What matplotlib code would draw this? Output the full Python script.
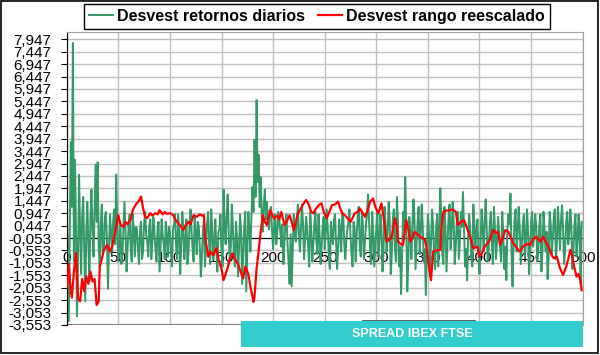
import numpy as np
import matplotlib
matplotlib.use("Agg")
import matplotlib.pyplot as plt
from matplotlib.patches import Rectangle
from matplotlib.lines import Line2D

plt.rcParams['font.family'] = ['Liberation Sans', 'DejaVu Sans']

# daily returns std, one value per day (rows of 20 days)
green_v = [
    1.7, -0.8, -3.4, 0.5, 3.8, 1.2, 7.8, -1.0, 3.1, 0.4, -3.2, -0.9, 2.5, 0.3, -1.5, 0.8, 1.6, -0.6, -2.6, 0.2,
    1.4, -0.3, -1.8, 0.7, 1.9, 0.2, -0.8, 1.1, 2.9, 0.6, 3.0, -0.4, -1.2, 0.5, 1.3, -0.7, -0.5, 0.8, 1.0, -0.2,
    -2.1, -0.4, 0.9, 0.1, -0.6, 0.6, 1.1, -0.3, 2.5, 0.4, -1.0, -0.2, 0.6, -1.1, -0.7, 0.3, 1.4, 0.2, -1.4, -0.5,
    0.5, 0.9, -0.4, -1.0, 0.9, 0.3, -0.8, 0.4, 0.3, -0.5, -1.1, 0.2, 0.6, -0.9, -0.6, 0.5, 1.0, 0.1, -0.2, -0.8,
    0.4, 0.7, -0.9, -0.2, 0.8, 0.2, -0.5, -1.0, 0.3, 0.6, -1.4, -0.3, 0.7, 0.1, -0.3, -0.9, 0.6, 0.0, -0.8, 0.4,
    0.2, -0.6, -1.2, 0.3, 0.5, 0.9, -0.4, -0.9, 0.9, 0.2, -1.5, -0.4, 1.0, 0.3, -0.9, -0.2, 0.7, -1.1, -0.6, 0.4,
    1.1, 0.2, -0.5, -1.0, 0.8, 0.1, -0.7, 0.6, 0.4, -0.4, -1.6, -0.8, 0.2, 0.7, -1.2, -0.3, 0.5, 1.0, -0.3, -1.1,
    1.1, 0.3, -0.9, -0.2, 0.7, -0.5, -1.4, 0.2, 0.3, 0.9, -0.6, -1.2, 1.9, 0.5, -0.3, 0.8, 1.7, 0.2, -1.0, -0.4,
    1.3, 0.4, -0.7, -1.2, 0.6, 0.0, -1.6, -0.5, 0.9, 0.2, -1.9, -0.8, 0.4, 1.0, -2.2, -0.6, 1.0, 0.3, -0.6, 0.8,
    2.0, 1.0, 3.9, 1.6, 5.5, 2.2, 3.3, 1.2, 2.4, 0.8, 0.2, 1.3, 1.9, 0.7, 1.4, 0.6, 0.3, 1.0, 1.2, 0.2,
    -0.5, 0.4, 0.9, -0.3, 0.1, 1.0, 0.7, 0.2, -0.4, 0.5, -1.1, -0.2, 0.6, 0.9, -0.3, -1.0, -1.9, 0.1, -2.0, -0.6,
    0.9, 0.2, -0.2, 0.6, 1.3, 0.1, -0.6, 0.4, 1.3, 0.5, -0.9, -0.1, 0.8, 0.3, -0.4, -1.2, 1.0, 0.2, -1.0, -0.3,
    0.5, 1.0, -0.2, -0.7, 0.9, 0.1, -1.1, -0.4, 0.4, 0.8, -0.5, 0.2, 1.1, 0.3, -0.8, -1.3, 0.6, 0.0, -0.3, 0.7,
    0.9, -0.2, -1.3, -0.5, 0.7, 0.2, -0.6, 1.0, 0.8, -0.3, -0.9, -0.1, 0.3, 0.6, 1.1, 0.0, -0.7, -1.2, 0.6, 0.3,
    -1.0, 0.1, 0.8, 1.2, -0.4, -0.8, 1.0, 0.4, -0.9, -0.2, 0.5, 0.9, 1.7, 0.6, -0.5, -1.1, 1.0, 0.2, -1.2, -0.4,
    0.4, 1.0, -0.8, -0.2, 0.9, 0.3, -1.4, -0.6, 1.2, 0.5, -0.6, 0.2, 1.4, 0.6, -1.5, -0.7, 0.7, 1.1, -0.4, -1.0,
    1.6, 0.5, -1.2, -0.4, -2.3, -0.8, 1.0, 0.3, 2.4, 0.6, -2.2, -1.0, 0.8, 0.2, -0.9, 0.4, 1.5, 0.7, -1.3, -0.3,
    0.6, 1.2, -0.7, 0.1, 1.3, 0.4, -1.0, -0.5, -2.35, -0.6, 0.9, 0.3, -1.6, -0.2, 1.1, 0.5, -0.8, -1.3, 0.4, 0.9,
    -1.2, 0.1, 1.95, 0.8, -0.7, -1.1, 1.2, 0.4, -1.4, -0.3, 0.8, 1.3, -0.5, 0.2, 1.4, 0.6, -1.1, -0.4, 0.6, 1.0,
    -0.9, -0.2, 1.0, 0.4, 1.8, 0.3, -1.2, -0.5, -1.75, 0.0, 0.9, 0.3, -0.8, -1.2, 1.3, 0.5, -0.4, 0.2, 0.7, -0.6,
    -1.5, -0.3, 1.1, 0.4, -0.6, 0.6, 1.5, 0.2, -1.0, -0.4, 0.5, 1.0, -0.3, -1.1, 1.2, 0.3, -0.9, -0.2, 0.8, 0.1,
    -0.5, -1.0, 1.0, 0.2, -1.3, -0.4, -1.75, 0.3, 0.9, 0.5, 1.74, -0.6, -2.0, -0.3, 0.7, 1.1, -0.6, 0.2, 1.2, 0.4,
    -1.1, -0.3, 0.5, 0.9, -0.8, -0.2, 1.1, 0.3, -1.5, -0.6, 0.6, 1.0, -0.4, 0.1, 0.9, 0.4, -1.0, -0.5, 0.5, 0.9,
    -1.4, -0.6, 1.0, 0.3, -0.6, 0.2, -1.7, -0.8, 1.0, 0.5, -0.7, -0.1, 0.8, 1.1, -0.9, -0.3, 1.2, 0.4, -0.5, 0.7,
    1.27, 0.3, -1.1, -0.5, 0.6, 1.0, -0.3, 0.2, 1.1, 0.4, -1.3, -0.6, 0.5, 0.9, -0.8, -0.2, 0.9, 0.3, -1.9, 0.6,
]
green_t = list(range(len(green_v)))

# rescaled range std
red_t = [
    0, 2, 4, 5, 7, 9, 11, 13, 15, 17, 19, 21, 23, 25, 27, 29, 31, 32, 34, 36,
    39, 42, 44, 47, 50, 52, 55, 57, 59, 62, 64, 67, 70, 72, 74, 76, 78, 81, 83, 86,
    88, 90, 93, 95, 97, 100, 103, 105, 107, 110, 113, 115, 118, 120, 123, 126, 129, 131, 133, 134,
    136, 137, 139, 142, 145, 147, 150, 152, 154, 156, 158, 161, 163, 166, 168, 171, 173, 176, 178, 181,
    182, 184, 186, 188, 190, 192, 194, 197, 199, 201, 204, 206, 208, 211, 213, 216, 218, 220, 222, 224,
    226, 229, 232, 234, 237, 239, 241, 243, 245, 247, 249, 252, 254, 257, 260, 263, 265, 267, 270, 272,
    275, 277, 279, 282, 284, 287, 289, 291, 294, 297, 299, 302, 305, 307, 310, 313, 315, 318, 320, 321,
    324, 326, 329, 331, 333, 335, 337, 340, 342, 345, 347, 349, 351, 353, 355, 358, 362, 363, 365, 368,
    372, 374, 377, 379, 382, 385, 388, 391, 394, 398, 400, 402, 405, 408, 410, 413, 416, 418, 420, 423,
    425, 428, 430, 433, 436, 439, 442, 444, 447, 449, 452, 455, 457, 459, 462, 464, 467, 470, 472, 475,
    478, 481, 484, 486, 488, 490, 491, 494, 496, 498, 499,
]
red_v = [
    -2.05, -1.1, -2.2, -2.45, -1.4, -0.65, -2.5, -2.6, -1.7, -2.2, -1.6, -1.9, -1.4, -1.8, -1.7, -2.75, -2.6, -1.2, -0.9, -0.55,
    -0.33, -0.6, -0.4, 0.2, 0.87, 0.5, 0.4, 0.6, 0.5, 0.7, 1.07, 1.3, 1.45, 1.62, 1.15, 0.8, 0.75, 0.95, 0.85, 0.95,
    0.9, 1.07, 0.9, 1.0, 0.92, 0.95, 0.88, 0.7, 0.6, 0.45, 0.27, 0.45, 0.6, 0.5, 0.87, 0.8, 0.9, 0.85, 0.87, 0.0,
    -0.5, -0.8, -0.6, -0.75, -0.45, -0.9, -1.3, -1.75, -1.5, -1.25, -0.9, -0.67, -0.9, -1.1, -1.35, -1.68, -1.2, -1.5, -2.0, -2.62,
    -2.4, -1.3, -0.53, 0.2, 0.87, 0.6, 0.47, 1.07, 0.9, 0.73, 0.85, 0.7, 1.0, 0.47, 0.6, 0.87, 0.6, 0.27, 0.6, 0.93,
    1.07, 1.3, 1.48, 1.35, 1.0, 0.94, 1.1, 1.2, 1.3, 1.34, 1.0, 0.74, 0.95, 1.27, 1.3, 1.41, 1.15, 0.94, 0.85, 0.75,
    0.6, 0.75, 0.94, 1.0, 1.14, 0.95, 0.8, 1.0, 1.41, 1.54, 1.2, 0.94, 1.34, 0.8, -0.2, -0.1, 0.0, 0.74, 0.4, -0.2,
    -0.3, -0.33, 0.67, 0.3, -0.2, -0.05, 0.2, 0.1, 0.0, -0.05, -0.13, -0.5, -1.21, -1.75, -0.6, -0.55, -0.53, 0.3, 1.0, 1.05,
    1.07, 1.1, 1.0, 0.47, 0.6, 0.67, 0.33, 0.0, -0.47, -0.4, -0.8, -0.7, -0.4, -0.25, -0.13, 0.27, 0.15, 0.2, -0.33, 0.0,
    0.27, 0.2, 0.0, -0.27, -0.45, -0.6, -0.4, -0.33, -0.3, -0.33, -0.1, 0.0, -0.1, -0.2, 0.0, -0.2, -0.4, -0.75, -0.87, -0.8,
    -1.27, -1.54, -1.21, -0.9, -0.53, -0.8, -1.07, -1.61, -1.5, -1.8, -2.15,
]

y_ticks = [-3.553 + 0.5 * k for k in range(24)]
y_labels = [f"{v:.3f}".replace('.', ',') for v in y_ticks]
x_ticks = list(range(0, 501, 50))

fig = plt.figure(figsize=(6.0, 3.55), dpi=100)
ax = fig.add_axes([66.7 / 600, 1 - 325 / 355, 516 / 600, 293.3 / 355])

ax.set_xlim(0, 500)
ax.set_ylim(-3.553, 8.253)

ax.set_yticks(y_ticks)
ax.set_yticklabels(y_labels)
ax.set_xticks(x_ticks)
ax.set_xticklabels([str(v) for v in x_ticks], rotation=90, va='top')
ax.tick_params(axis='y', direction='out', length=4, width=0.8, pad=7, labelsize=11)
ax.tick_params(axis='x', length=0, pad=9, labelsize=11)

ax.grid(True, color='#c0c0c0', linewidth=1.0)
ax.set_axisbelow(True)

ax.spines['bottom'].set_position(('data', -0.053))
ax.spines['bottom'].set_color('black')
ax.spines['bottom'].set_zorder(1.5)
ax.spines['left'].set_color('black')
ax.spines['top'].set_color('#a0a0a0')
ax.spines['right'].set_color('#a0a0a0')
ax.axhline(-3.553, color='#606060', linewidth=1.2, zorder=1)

ax.plot(green_t, green_v, color='#339966', linewidth=1.4, label='Desvest retornos diarios', zorder=2)
ax.plot(red_t, red_v, color='#ff0000', linewidth=1.6, label='Desvest rango reescalado', zorder=3)

leg = fig.legend(loc='upper center', bbox_to_anchor=(317 / 600, 1 - 4 / 355), ncol=2,
                 frameon=True, fancybox=False, shadow=False, edgecolor='black', framealpha=1,
                 prop={'weight': 'bold', 'size': 11.5}, handlelength=1.5, handletextpad=0.25,
                 columnspacing=0.8, borderpad=0.3, borderaxespad=0)
leg.get_frame().set_linewidth(1.0)

# footer banner
fig.add_artist(Line2D([363 / 600, 475 / 600], [1 - 320.5 / 355] * 2, transform=fig.transFigure,
                      color='#404040', linewidth=1.2, zorder=4))
fig.add_artist(Rectangle((241 / 600, 1 - 347 / 355), 342 / 600, 26 / 355, transform=fig.transFigure,
                         facecolor='#33cccc', edgecolor='none', zorder=5))
fig.text(412 / 600, 1 - 334 / 355, 'SPREAD IBEX FTSE', color='white', fontweight='bold',
         fontsize=9, ha='center', va='center', zorder=6)

# outer border
fig.add_artist(Rectangle((1 / 600, 1 - 353 / 355), 597 / 600, 352 / 355, transform=fig.transFigure,
                         fill=False, edgecolor='black', linewidth=1.2, zorder=7))

fig.savefig('out.png', dpi=100)
